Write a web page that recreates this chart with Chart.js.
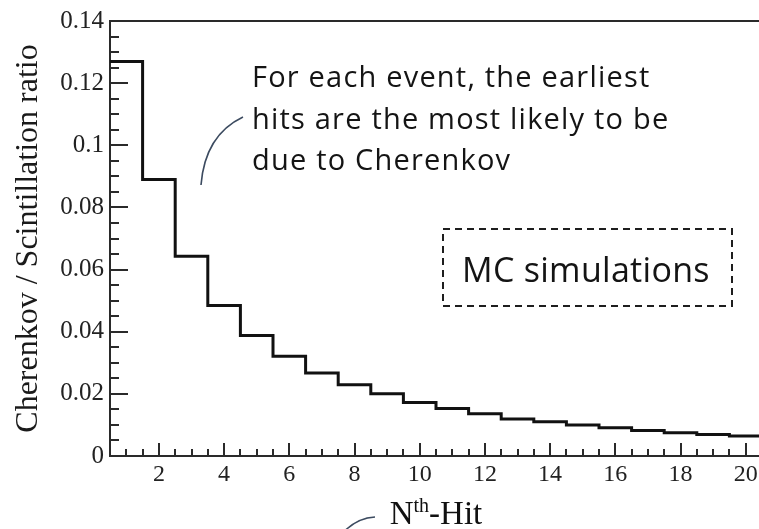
<!DOCTYPE html>
<html>
<head>
<meta charset="utf-8">
<script src="https://cdn.jsdelivr.net/npm/chart.js@4.4.1/dist/chart.umd.min.js"></script>
<style>
html, body { margin: 0; padding: 0; background: #fff; overflow: hidden; }
</style>
</head>
<body>
<canvas id="myChart" width="766" height="529"></canvas>
<script>
// data
const nthHit = [1, 2, 3, 4, 5, 6, 7, 8, 9, 10, 11, 12, 13, 14, 15, 16, 17, 18, 19, 20];
const ratio = [0.127, 0.089, 0.0643, 0.0484, 0.0388, 0.0321, 0.0267, 0.0229, 0.0200, 0.0172,
               0.0153, 0.0136, 0.0119, 0.0110, 0.0100, 0.0091, 0.0082, 0.0075, 0.0069, 0.0064];
const xTicks = [2, 4, 6, 8, 10, 12, 14, 16, 18, 20];
const yTicks = [0, 0.02, 0.04, 0.06, 0.08, 0.1, 0.12, 0.14];
const yTickLabels = ['0', '0.02', '0.04', '0.06', '0.08', '0.1', '0.12', '0.14'];
const noteLines = ['For each event, the earliest', 'hits are the most likely to be', 'due to Cherenkov'];
const boxText = 'MC simulations';

const serif = '"Liberation Serif", "Times New Roman", serif';
const sans = '"Open Sans", "Noto Sans", sans-serif';

// histogram edges: extend first/last bin to the bin borders
const stepData = [{ x: nthHit[0] - 0.5, y: ratio[0] }]
  .concat(nthHit.map((n, i) => ({ x: n, y: ratio[i] })))
  .concat([{ x: nthHit[nthHit.length - 1] + 0.5, y: ratio[ratio.length - 1] }]);

// inward ticks, frame, x title and the overlay notes
const decor = {
  id: 'decor',
  afterDraw(chart) {
    const { ctx, chartArea: a, scales: { x, y } } = chart;
    ctx.save();
    ctx.strokeStyle = '#2a2a2a';
    ctx.lineWidth = 2;
    ctx.beginPath();
    ctx.moveTo(a.left, a.top);
    ctx.lineTo(a.right + 5, a.top);
    ctx.stroke();

    ctx.beginPath();
    for (let v = 1; v <= 20.5; v += 0.5) {
      const px = Math.round(x.getPixelForValue(v));
      const len = (v % 2 === 0) ? 13 : 7;
      ctx.moveTo(px, a.bottom);
      ctx.lineTo(px, a.bottom - len);
    }
    for (let i = 1; i <= 28; i++) {
      const v = i * 0.005;
      const py = Math.round(y.getPixelForValue(v));
      const len = (i % 4 === 0) ? 18 : 9;
      ctx.moveTo(a.left, py);
      ctx.lineTo(a.left + len, py);
    }
    ctx.stroke();

    // x title with superscript
    ctx.fillStyle = '#111';
    ctx.textBaseline = 'alphabetic';
    ctx.textAlign = 'left';
    const big = '33px ' + serif, small = '20px ' + serif;
    ctx.font = big;
    const wN = ctx.measureText('N').width, wH = ctx.measureText('-Hit').width;
    ctx.font = small;
    const wT = ctx.measureText('th').width;
    let tx = (a.left + a.right) / 2 - (wN + wT + wH) / 2;
    const base = 524;
    ctx.font = big; ctx.fillText('N', tx, base); tx += wN;
    ctx.font = small; ctx.fillText('th', tx, base - 12); tx += wT;
    ctx.font = big; ctx.fillText('-Hit', tx, base);

    // annotation text
    ctx.fillStyle = '#141414';
    ctx.font = '29px ' + sans;
    ctx.letterSpacing = '1.2px';
    noteLines.forEach((t, i) => ctx.fillText(t, 252, 87 + i * 41.5));

    ctx.font = '34px ' + sans;
    ctx.letterSpacing = '0.3px';
    ctx.fillText(boxText, 462, 282);
    ctx.letterSpacing = '0px';
    ctx.setLineDash([7, 5]);
    ctx.lineWidth = 2;
    ctx.strokeStyle = '#1e1e1e';
    ctx.strokeRect(443, 229, 289, 77);
    ctx.setLineDash([]);

    // pointer curves
    ctx.strokeStyle = '#3c4b60';
    ctx.lineWidth = 1.6;
    ctx.beginPath();
    ctx.moveTo(243, 117);
    ctx.quadraticCurveTo(205, 135, 201, 185);
    ctx.stroke();
    ctx.beginPath();
    ctx.moveTo(375, 517);
    ctx.quadraticCurveTo(355, 518, 340, 536);
    ctx.stroke();
    ctx.restore();
  }
};

const ctx = document.getElementById('myChart').getContext('2d');
const myChart = new Chart(ctx, {
  type: 'line',
  data: {
    datasets: [{
      label: 'Cherenkov / Scintillation ratio',
      data: stepData,
      stepped: 'middle',
      borderColor: '#111',
      borderWidth: 3,
      pointRadius: 0,
      fill: false
    }]
  },
  options: {
    responsive: false,
    animation: false,
    layout: { padding: { top: 16, right: 4, left: 0, bottom: 0 } },
    plugins: { legend: { display: false }, tooltip: { enabled: false } },
    scales: {
      x: {
        type: 'linear',
        min: 0.5,
        max: 20.5,
        afterBuildTicks: s => { s.ticks = xTicks.map(v => ({ value: v })); },
        afterFit: s => { s.height = 73; },
        grid: { display: false, drawTicks: false },
        border: { display: true, color: '#2a2a2a', width: 2 },
        ticks: { color: '#222', padding: 4, maxRotation: 0, autoSkip: false, font: { family: serif, size: 24 } }
      },
      y: {
        min: 0,
        max: 0.14,
        afterBuildTicks: s => { s.ticks = yTicks.map(v => ({ value: v })); },
        afterFit: s => { s.width = 110; },
        grid: { display: false, drawTicks: false },
        border: { display: true, color: '#2a2a2a', width: 2 },
        ticks: {
          color: '#222', padding: 6, autoSkip: false,
          font: { family: serif, size: 25 },
          callback: (v, i) => yTickLabels[i]
        },
        title: {
          display: true,
          text: 'Cherenkov / Scintillation ratio',
          color: '#1a1a1a',
          font: { family: serif, size: 32 },
          padding: { top: 9, bottom: 0 }
        }
      }
    }
  },
  plugins: [decor]
});
</script>
</body>
</html>
